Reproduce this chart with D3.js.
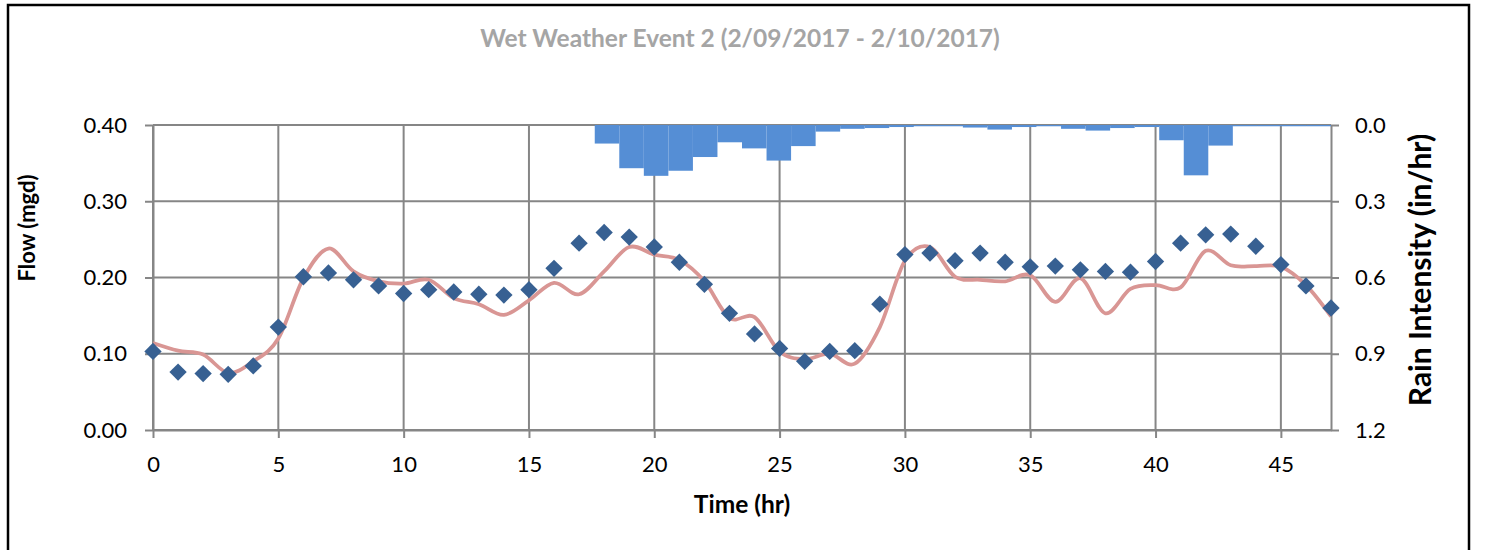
<!DOCTYPE html>
<html>
<head>
<meta charset="utf-8">
<script src="https://cdn.jsdelivr.net/npm/d3@7"></script>
<style>
  body { margin: 0; background: #fff; }
  svg { display: block; }
  text { font-family: Lato, "Open Sans", "Liberation Sans", sans-serif; }
</style>
</head>
<body>
<svg id="chart" width="1486" height="550"></svg>
<script>
// Hour of the event (x categories)
const hours = [0, 1, 2, 3, 4, 5, 6, 7, 8, 9,
               10, 11, 12, 13, 14, 15, 16, 17, 18, 19,
               20, 21, 22, 23, 24, 25, 26, 27, 28, 29,
               30, 31, 32, 33, 34, 35, 36, 37, 38, 39,
               40, 41, 42, 43, 44, 45, 46, 47];

// Metered flow (mgd), hourly
const observedFlow = [0.103, 0.076, 0.074, 0.073, 0.084, 0.135, 0.201, 0.206, 0.197, 0.189,
                      0.179, 0.184, 0.181, 0.178, 0.177, 0.184, 0.212, 0.245, 0.259, 0.253,
                      0.240, 0.220, 0.191, 0.153, 0.126, 0.107, 0.090, 0.103, 0.104, 0.165,
                      0.230, 0.232, 0.222, 0.232, 0.220, 0.214, 0.215, 0.210, 0.208, 0.207,
                      0.221, 0.245, 0.256, 0.257, 0.241, 0.217, 0.189, 0.160];

// Modeled flow (mgd), hourly
const modeledFlow = [0.114, 0.104, 0.099, 0.075, 0.090, 0.120, 0.199, 0.238, 0.208, 0.195,
                     0.192, 0.197, 0.173, 0.165, 0.151, 0.170, 0.193, 0.178, 0.208, 0.240,
                     0.230, 0.223, 0.195, 0.147, 0.148, 0.103, 0.093, 0.100, 0.087, 0.135,
                     0.222, 0.240, 0.201, 0.197, 0.195, 0.203, 0.168, 0.199, 0.153, 0.185,
                     0.190, 0.187, 0.235, 0.216, 0.215, 0.214, 0.190, 0.149];

// Rain intensity (in/hr), hourly
const rainIntensity = [0, 0, 0, 0, 0, 0, 0, 0, 0, 0,
                       0, 0, 0, 0, 0, 0, 0, 0, 0.073, 0.170,
                       0.200, 0.180, 0.126, 0.068, 0.092, 0.140, 0.083, 0.026, 0.015, 0.012,
                       0.008, 0.005, 0.005, 0.010, 0.018, 0.008, 0.005, 0.015, 0.022, 0.012,
                       0.008, 0.060, 0.198, 0.081, 0.005, 0.005, 0.005, 0.005];

// Tick labels
const flowTicks = [0.00, 0.10, 0.20, 0.30, 0.40];
const rainTicks = [0.0, 0.3, 0.6, 0.9, 1.2];
const timeTicks = [0, 5, 10, 15, 20, 25, 30, 35, 40, 45];

const titleText = "Wet Weather Event 2 (2/09/2017 - 2/10/2017)";

const svg = d3.select("#chart");
const plot = { left: 153, right: 1331, top: 125, bottom: 430 };

const x = d3.scaleLinear().domain([0, 47]).range([plot.left, plot.right]);
const y = d3.scaleLinear().domain([0, 0.4]).range([plot.bottom, plot.top]);
const yRain = d3.scaleLinear().domain([0, 1.2]).range([plot.top, plot.bottom]);
const xRain = d3.scaleBand().domain(hours).range([plot.left, plot.right]).padding(0);

const gridColor = "#868686";

// Outer chart frame
svg.append("rect")
  .attr("x", 8).attr("y", 5).attr("width", 1461).attr("height", 600)
  .attr("fill", "#fff").attr("stroke", "#000").attr("stroke-width", 2.5);

// Title
svg.append("text")
  .attr("x", 740).attr("y", 47)
  .attr("text-anchor", "middle")
  .attr("font-size", 24.5).attr("font-weight", "bold")
  .attr("fill", "#a5a5a5")
  .text(titleText);

// Gridlines
const grid = svg.append("g").attr("stroke", gridColor).attr("stroke-width", 2);
grid.selectAll("line.h").data(flowTicks).join("line").attr("class", "h")
  .attr("x1", plot.left).attr("x2", plot.right)
  .attr("y1", d => y(d)).attr("y2", d => y(d));
grid.selectAll("line.v").data(timeTicks).join("line").attr("class", "v")
  .attr("x1", d => x(d)).attr("x2", d => x(d))
  .attr("y1", plot.top).attr("y2", plot.bottom);

// Axes
function styleAxis(g, fs) {
  g.selectAll("path.domain").attr("stroke", gridColor).attr("stroke-width", 2);
  g.selectAll(".tick line").attr("stroke", gridColor).attr("stroke-width", 2);
  g.selectAll(".tick text").attr("font-size", fs).attr("fill", "#000")
    .style("font-family", "Lato, 'Open Sans', sans-serif");
}

svg.append("g")
  .attr("transform", `translate(${plot.left},0)`)
  .call(d3.axisLeft(y).tickValues(flowTicks).tickFormat(d3.format(".2f"))
    .tickSize(8).tickSizeOuter(0).tickPadding(18))
  .call(g => styleAxis(g, 22));

svg.append("g")
  .attr("transform", `translate(0,${plot.bottom})`)
  .call(d3.axisBottom(x).tickValues(timeTicks).tickFormat(d3.format("d"))
    .tickSize(8).tickSizeOuter(0).tickPadding(18))
  .call(g => styleAxis(g, 22));

svg.append("g")
  .attr("transform", `translate(${plot.right},0)`)
  .call(d3.axisRight(yRain).tickValues(rainTicks).tickFormat(d3.format(".1f"))
    .tickSize(8).tickSizeOuter(0).tickPadding(16))
  .call(g => styleAxis(g, 22));

// Rain bars hanging from the top of the plot
svg.append("g").selectAll("rect").data(hours).join("rect")
  .attr("x", d => xRain(d))
  .attr("width", xRain.bandwidth())
  .attr("y", yRain(0))
  .attr("height", (d, i) => yRain(rainIntensity[i]) - yRain(0))
  .attr("fill", "#558ed5");

// Modeled flow, smoothed line
const line = d3.line()
  .x((d, i) => x(hours[i]))
  .y(d => y(d))
  .curve(d3.curveCardinal.tension(0));
svg.append("path")
  .datum(modeledFlow)
  .attr("d", line)
  .attr("fill", "none")
  .attr("stroke", "#d99694")
  .attr("stroke-width", 3.75)
  .attr("stroke-linejoin", "round");

// Observed flow, diamond markers
const diamond = d3.symbol().type(d3.symbolSquare).size(150);
svg.append("g").selectAll("path").data(observedFlow).join("path")
  .attr("d", diamond)
  .attr("transform", (d, i) => `translate(${x(hours[i])},${y(d)}) rotate(45)`)
  .attr("fill", "#376092");

// Axis titles
svg.append("text")
  .attr("transform", "translate(35,228) rotate(-90)")
  .attr("text-anchor", "middle")
  .attr("font-size", 22).attr("font-weight", "bold")
  .text("Flow (mgd)");

svg.append("text")
  .attr("transform", "translate(1431,270) rotate(-90)")
  .attr("text-anchor", "middle")
  .attr("font-size", 30).attr("font-weight", "bold")
  .text("Rain Intensity (in/hr)");

svg.append("text")
  .attr("x", 742).attr("y", 513)
  .attr("text-anchor", "middle")
  .attr("font-size", 24.5).attr("font-weight", "bold")
  .text("Time (hr)");
</script>
</body>
</html>
